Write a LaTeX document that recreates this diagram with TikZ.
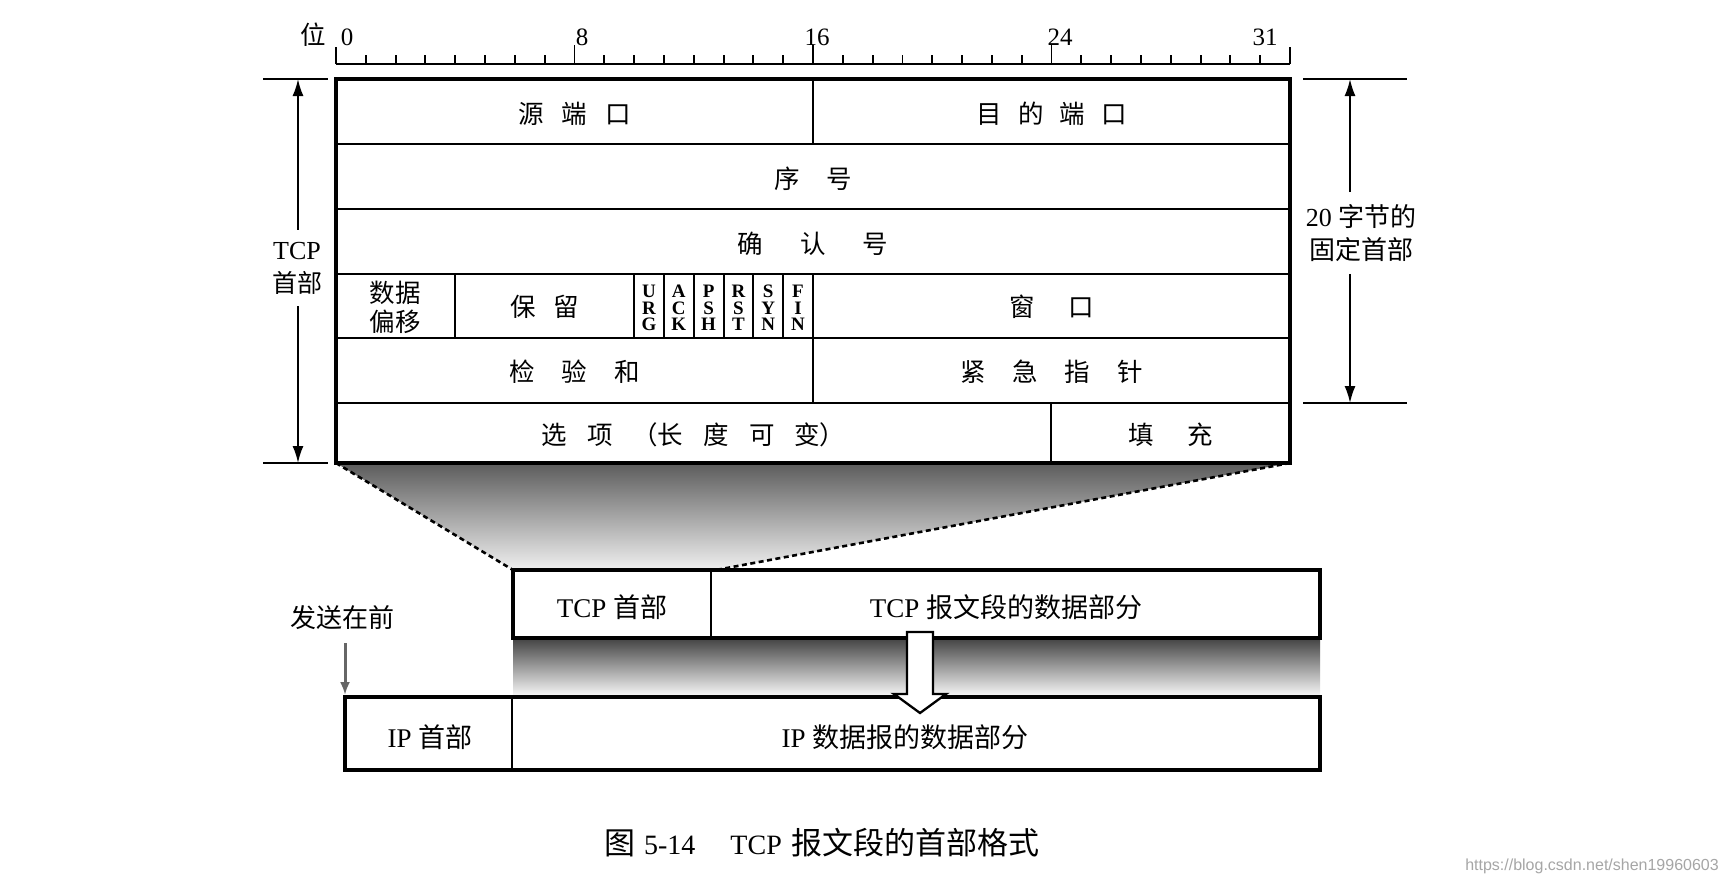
\documentclass[tikz,border=0pt]{standalone}
\usepackage{fontspec}
\setmainfont{Liberation Serif}
\newfontfamily\cjk{Noto Sans CJK SC}
\newfontfamily\wmfont{Liberation Sans}
\usetikzlibrary{arrows.meta}
\newcommand\chgap[1]{\hspace*{#1pt}}
\begin{document}
\begin{tikzpicture}[x=1pt,y=-1pt,
  thickbox/.style={line width=3.8pt},
  thinline/.style={line width=1.9pt},
  rulerline/.style={line width=1.9pt},
  cell/.style={inner sep=0pt, font=\fontsize{25.5}{29}\selectfont\cjk},
  bitnum/.style={inner sep=0pt, font=\fontsize{25}{25}\selectfont},
  flag/.style={inner sep=0pt, align=center, font=\fontsize{19}{16.5}\selectfont\bfseries},
  dimline/.style={line width=1.9pt},
  dimarrow/.style={line width=1.9pt, -{Latex[length=17pt,width=11pt]}},
  dimlabel/.style={inner xsep=0pt, inner ysep=12pt, align=center, font=\fontsize{26}{33}\selectfont},
  boxtext/.style={inner sep=0pt, font=\fontsize{27}{29}\selectfont},
  dashline/.style={line width=2.6pt, dash pattern=on 5pt off 3.5pt},
]
\useasboundingbox (0,0) rectangle (1728,884);
\fill[white] (0,0) rectangle (1728,884);

% ---- shading trapezoid and band ----
\coordinate (tl) at (336,463);
\coordinate (tr) at (1290,463);
\coordinate (bl) at (513,570);
\coordinate (br) at (716,570);
\shade[top color=black!64, bottom color=black!6] (tl) -- (tr) -- (br) -- (bl) -- cycle;
\draw[dashline] (tl) -- (bl);
\draw[dashline] (tr) -- (br);
\shade[top color=black!74, bottom color=black!3] (513,638) rectangle (1320,696);

% ---- ruler ----
\draw[rulerline] (336,64) -- (1290,64);
\foreach \i in {1,...,31} {
  \draw[rulerline] ({336+\i*29.8125},64) -- ++(0,-9);
}
\foreach \i in {8,16,24} {
  \draw[rulerline] ({336+\i*29.8125},64) -- ++(0,-19);
}
\draw[rulerline] (336,64) -- (336,47);
\draw[rulerline] (1290,64) -- (1290,47);
\node[cell] (wei) at (313,35) {位};
\node[bitnum] (n0) at (347,37) {0};
\node[bitnum] (n8) at (582,37) {8};
\node[bitnum] (n16) at (817,37) {16};
\node[bitnum] (n24) at (1060,37) {24};
\node[bitnum] (n31) at (1265,37) {31};

% ---- header table ----
\draw[thinline] (336,144) -- (1290,144);
\draw[thinline] (336,209) -- (1290,209);
\draw[thinline] (336,274) -- (1290,274);
\draw[thinline] (336,338) -- (1290,338);
\draw[thinline] (336,403) -- (1290,403);
\draw[thinline] (813,79) -- (813,144);
\draw[thinline] (455,274) -- (455,338);
\foreach \i in {10,...,16} {
  \draw[thinline] ({336+\i*29.8125},274) -- ({336+\i*29.8125},338);
}
\draw[thinline] (813,338) -- (813,403);
\draw[thinline] (1051,403) -- (1051,463);
\draw[thickbox] (336,79) rectangle (1290,463);

\node[cell] (src) at (574.5,114) {源\chgap{18}端\chgap{18}口};
\node[cell] (dst) at (1051.5,114) {目\chgap{16}的\chgap{16}端\chgap{16}口};
\node[cell] (seq) at (813,179) {序\chgap{27}号};
\node[cell] (ackn) at (813,244) {确\chgap{37}认\chgap{37}号};
\node[cell, align=center] (off) at (395,307) {数据\\偏移};
\node[cell] (rsv) at (544.5,307) {保\chgap{18}留};
\node[flag] (furg) at (649.0,308) {U\\R\\G};
\node[flag] (fack) at (678.8,308) {A\\C\\K};
\node[flag] (fpsh) at (708.6,308) {P\\S\\H};
\node[flag] (frst) at (738.4,308) {R\\S\\T};
\node[flag] (fsyn) at (768.2,308) {S\\Y\\N};
\node[flag] (ffin) at (798.0,308) {F\\I\\N};
\node[cell] (win) at (1051.5,307) {窗\chgap{33}口};
\node[cell] (csum) at (574.5,372) {检\chgap{27}验\chgap{27}和};
\node[cell] (urgp) at (1051.5,372) {紧\chgap{27}急\chgap{27}指\chgap{27}针};
\node[cell] (opt) at (693.5,435) {选\chgap{20}项\chgap{20}（长\chgap{20}度\chgap{20}可\chgap{20}变）};
\node[cell] (pad) at (1170.5,435) {填\chgap{34}充};

% ---- left dimension ----
\draw[dimline] (263,79) -- (328,79);
\draw[dimline] (263,463) -- (328,463);
\coordinate (ltop) at (298,79);
\coordinate (lbot) at (298,463);
\node[dimlabel] (tcplab) at (297,268) {TCP\\{\cjk\fontsize{25}{33}\selectfont 首部}};
\draw[dimarrow] (tcplab.north -| ltop) -- (ltop);
\draw[dimarrow] (tcplab.south -| lbot) -- (lbot);

% ---- right dimension ----
\draw[dimline] (1303,79) -- (1407,79);
\draw[dimline] (1303,403) -- (1407,403);
\coordinate (rtop) at (1350,79);
\coordinate (rbot) at (1350,403);
\node[dimlabel] (fixlab) at (1361,233) {20 {\cjk 字节的}\\{\cjk 固定首部}};
\draw[dimarrow] (fixlab.north -| rtop) -- (rtop);
\draw[dimarrow] (fixlab.south -| rbot) -- (rbot);

% ---- TCP segment ----
\draw[thickbox] (513,570) rectangle (1320,638);
\draw[thinline] (711,570) -- (711,638);
\node[boxtext] (tcph) at (612,607) {TCP {\cjk 首部}};
\node[boxtext] (tcpd) at (1006,607) {TCP {\cjk 报文段的数据部分}};

% ---- IP datagram ----
\draw[thickbox] (345,697) rectangle (1320,770);
\draw[thinline] (512,697) -- (512,770);
\node[boxtext] (iph) at (430,737) {IP {\cjk 首部}};
\node[boxtext] (ipd) at (905,737) {IP {\cjk 数据报的数据部分}};

% ---- hollow arrow ----
\filldraw[fill=white, line width=2.3pt, line join=miter]
  (907,632) -- (933,632) -- (933,694) -- (946,694) -- (920,713) -- (894,694) -- (907,694) -- cycle;

% ---- send first ----
\node[inner sep=0pt, font=\fontsize{26}{28}\selectfont\cjk] (sendfirst) at (342,618) {发送在前};
\coordinate (sendstart) at (345,643);
\coordinate (sendend) at (345,695);
\draw[line width=3pt, black!60, -{Latex[length=13pt,width=10pt]}] (sendstart) -- (sendend);

% ---- caption ----
\node[inner sep=0pt, font=\fontsize{28}{30}\selectfont] (caption) at (822,843)
  {{\cjk\fontsize{31}{33}\selectfont 图}\hspace*{9pt}5-14\hspace*{35pt}TCP\hspace*{10pt}{\cjk\fontsize{31}{33}\selectfont 报文段的首部格式}};

% ---- watermark ----
\node[inner sep=0pt, text=black!35, font=\fontsize{16}{18}\selectfont\wmfont] (wm) at (1592,866) {https://blog.csdn.net/shen19960603};
\end{tikzpicture}
\end{document}
